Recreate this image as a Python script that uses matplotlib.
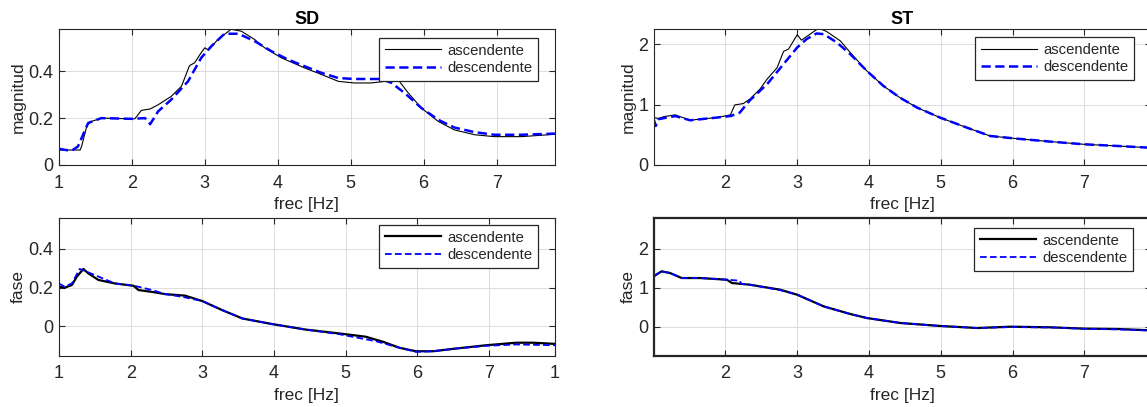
import matplotlib.pyplot as plt

plt.rcParams['font.family'] = ['Liberation Sans', 'DejaVu Sans']

# SD - magnitud
sd_mag_asc_f = [1.0, 1.29, 1.31, 1.38, 1.42, 1.58, 2.0, 2.04, 2.13, 2.25, 2.36, 2.54, 2.68,
                2.79, 2.86, 2.95, 3.0, 3.05, 3.18, 3.36, 3.5, 3.68, 3.82, 4.05, 4.37, 4.6,
                4.83, 5.05, 5.28, 5.47, 5.65, 5.79, 5.97, 6.2, 6.42, 6.7, 6.97, 7.34, 7.8]
sd_mag_asc = [0.064, 0.064, 0.079, 0.164, 0.183, 0.2, 0.197, 0.197, 0.233, 0.239, 0.257,
              0.293, 0.336, 0.424, 0.436, 0.479, 0.5, 0.49, 0.536, 0.579, 0.571, 0.536,
              0.5, 0.457, 0.414, 0.386, 0.357, 0.35, 0.35, 0.357, 0.364, 0.307, 0.243,
              0.186, 0.15, 0.129, 0.121, 0.121, 0.131]
sd_mag_desc_f = [1.0, 1.17, 1.26, 1.4, 1.58, 2.0, 2.18, 2.25, 2.36, 2.54, 2.77, 2.95, 3.09,
                 3.27, 3.46, 3.68, 3.91, 4.14, 4.37, 4.6, 4.83, 5.05, 5.42, 5.56, 5.74,
                 5.97, 6.2, 6.42, 6.7, 6.97, 7.34, 7.8]
sd_mag_desc = [0.069, 0.06, 0.079, 0.179, 0.2, 0.197, 0.2, 0.174, 0.229, 0.279, 0.357,
               0.457, 0.507, 0.56, 0.56, 0.529, 0.486, 0.45, 0.421, 0.393, 0.371, 0.367,
               0.367, 0.35, 0.307, 0.243, 0.193, 0.16, 0.14, 0.129, 0.129, 0.134]

# ST - magnitud
st_mag_asc_f = [1.0, 1.07, 1.14, 1.3, 1.37, 1.51, 1.65, 1.88, 2.07, 2.13, 2.25, 2.34, 2.48,
                2.58, 2.72, 2.81, 2.88, 3.0, 3.06, 3.18, 3.3, 3.41, 3.6, 3.74, 3.97, 4.2,
                4.43, 4.67, 4.99, 5.36, 5.69, 6.06, 6.53, 6.99, 7.46, 7.93]
st_mag_asc = [0.785, 0.77, 0.8, 0.83, 0.8, 0.74, 0.76, 0.785, 0.83, 0.994, 1.017, 1.09,
              1.254, 1.42, 1.61, 1.88, 1.92, 2.155, 2.066, 2.166, 2.265, 2.21, 2.055, 1.86,
              1.558, 1.31, 1.116, 0.95, 0.785, 0.62, 0.48, 0.436, 0.387, 0.343, 0.315, 0.285]
st_mag_desc_f = [1.0, 1.03, 1.06, 1.3, 1.51, 1.88, 2.07, 2.2, 2.34, 2.58, 2.81, 3.0, 3.13,
                 3.27, 3.37, 3.55, 3.74, 3.97, 4.2, 4.43, 4.67, 4.99, 5.36, 5.69, 6.06,
                 6.53, 6.99, 7.46, 7.93]
st_mag_desc = [0.757, 0.646, 0.757, 0.81, 0.74, 0.785, 0.81, 0.867, 1.07, 1.337, 1.67,
               1.945, 2.083, 2.177, 2.166, 2.03, 1.834, 1.558, 1.31, 1.116, 0.95, 0.785,
               0.62, 0.48, 0.436, 0.387, 0.343, 0.315, 0.285]

# SD - fase
sd_fase_asc_f = [1.0, 1.08, 1.18, 1.25, 1.34, 1.41, 1.55, 1.78, 2.04, 2.11, 2.34, 2.48,
                 2.76, 3.0, 3.28, 3.56, 3.98, 4.44, 4.91, 5.28, 5.52, 5.75, 5.98, 6.22,
                 6.54, 6.96, 7.38, 7.62, 7.92]
sd_fase_asc = [0.205, 0.2, 0.214, 0.257, 0.297, 0.274, 0.24, 0.222, 0.21, 0.188, 0.176,
               0.167, 0.159, 0.131, 0.084, 0.041, 0.012, -0.016, -0.036, -0.053, -0.079,
               -0.11, -0.128, -0.128, -0.114, -0.097, -0.084, -0.084, -0.09]
sd_fase_desc_f = [1.0, 1.08, 1.18, 1.29, 1.41, 1.78, 2.06, 2.3, 2.48, 2.72, 3.0, 3.28,
                  3.56, 3.98, 4.44, 4.91, 5.42, 5.75, 5.98, 6.22, 6.54, 6.96, 7.38, 7.92]
sd_fase_desc = [0.222, 0.205, 0.222, 0.297, 0.279, 0.222, 0.209, 0.188, 0.167, 0.153,
                0.131, 0.084, 0.041, 0.012, -0.016, -0.04, -0.076, -0.11, -0.131, -0.128,
                -0.114, -0.1, -0.093, -0.097]

# ST - fase
st_fase_asc_f = [1.0, 1.11, 1.23, 1.39, 1.65, 2.02, 2.09, 2.34, 2.76, 3.0, 3.37, 3.74,
                 3.97, 4.44, 5.0, 5.51, 5.98, 6.54, 7.0, 7.47, 7.93]
st_fase_asc = [1.29, 1.42, 1.376, 1.248, 1.248, 1.205, 1.12, 1.077, 0.95, 0.82, 0.52,
               0.325, 0.222, 0.094, 0.017, -0.034, 0.0, -0.017, -0.05, -0.06, -0.094]
st_fase_desc_f = [1.0, 1.11, 1.23, 1.39, 1.65, 2.02, 2.2, 2.22, 2.34, 2.76, 3.0, 3.37,
                  3.74, 3.97, 4.44, 5.0, 5.51, 5.98, 6.54, 7.0, 7.47, 7.93]
st_fase_desc = [1.3, 1.42, 1.376, 1.248, 1.248, 1.205, 1.18, 1.1, 1.077, 0.94, 0.82, 0.52,
                0.325, 0.222, 0.094, 0.017, -0.034, -0.01, -0.02, -0.055, -0.07, -0.1]

gris = '#262626'
azul = '#0000ff'
dash = (0, (3.7, 1.8))


def estilo(ax, xlim, ylim, xticks, xlabels, yticks, ylabels, marco=0.8):
    ax.set_xlim(xlim)
    ax.set_ylim(ylim)
    ax.set_xticks(xticks)
    ax.set_xticklabels(xlabels)
    ax.set_yticks(yticks)
    ax.set_yticklabels(ylabels)
    ax.tick_params(direction='in', top=True, right=True, length=4, width=0.8,
                   colors=gris, labelsize=13)
    ax.tick_params(axis='x', pad=7)
    ax.tick_params(axis='y', pad=4)
    ax.grid(color='#dcdcdc', linewidth=0.7)
    ax.set_axisbelow(True)
    for s in ax.spines.values():
        s.set_linewidth(marco)
        s.set_color(gris)
    ax.set_xlabel('frec [Hz]', fontsize=12.5, color=gris, labelpad=4)


def leyenda(ax, x, y):
    leg = ax.legend(loc='upper right', bbox_to_anchor=(x, y), borderaxespad=0,
                    fontsize=10.7, fancybox=False, edgecolor=gris, framealpha=1,
                    handlelength=3.8, handletextpad=0.4, labelspacing=0.22,
                    borderpad=0.38)
    leg.get_frame().set_linewidth(0.9)
    for t in leg.get_texts():
        t.set_color(gris)


fig = plt.figure(figsize=(11.47, 4.07), dpi=100)

ax1 = fig.add_axes([0.0514, 0.5946, 0.4324, 0.334])
ax2 = fig.add_axes([0.5702, 0.5946, 0.4333, 0.334])
ax3 = fig.add_axes([0.0514, 0.1265, 0.4324, 0.338])
ax4 = fig.add_axes([0.5702, 0.1265, 0.4333, 0.338])

# SD magnitud
ax1.plot(sd_mag_asc_f, sd_mag_asc, color='k', linewidth=0.8, label='ascendente')
ax1.plot(sd_mag_desc_f, sd_mag_desc, color=azul, linewidth=1.8, linestyle=dash,
         label='descendente')
estilo(ax1, (1, 7.8), (0, 0.58), range(1, 8), [str(i) for i in range(1, 8)],
       [0, 0.2, 0.4], ['0', '0.2', '0.4'])
ax1.set_ylabel('magnitud', fontsize=12.5, color=gris, labelpad=2)
ax1.set_title('SD', fontsize=13, fontweight='bold', color='k', pad=4)
leyenda(ax1, 0.966, 0.934)

# ST magnitud
ax2.plot(st_mag_asc_f, st_mag_asc, color='k', linewidth=0.8, label='ascendente')
ax2.plot(st_mag_desc_f, st_mag_desc, color=azul, linewidth=1.8, linestyle=dash,
         label='descendente')
estilo(ax2, (1.005, 7.93), (0, 2.25), range(2, 8), [str(i) for i in range(2, 8)],
       [0, 1, 2], ['0', '1', '2'])
ax2.set_ylabel('magnitud', fontsize=12.5, color=gris, labelpad=2)
ax2.set_title('ST', fontsize=13, fontweight='bold', color='k', pad=4)
leyenda(ax2, 0.966, 0.94)

# SD fase
ax3.plot(sd_fase_asc_f, sd_fase_asc, color='k', linewidth=1.6, label='ascendente')
ax3.plot(sd_fase_desc_f, sd_fase_desc, color=azul, linewidth=1.3, linestyle=dash,
         label='descendente')
estilo(ax3, (1, 7.92), (-0.15, 0.56), [1, 2, 3, 4, 5, 6, 7, 7.92],
       ['1', '2', '3', '4', '5', '6', '7', '1'],
       [0, 0.2, 0.4], ['0', '0.2', '0.4'])
ax3.set_ylabel('fase', fontsize=12.5, color=gris, labelpad=2)
leyenda(ax3, 0.966, 0.949)

# ST fase
ax4.plot(st_fase_asc_f, st_fase_asc, color='k', linewidth=1.6, label='ascendente')
ax4.plot(st_fase_desc_f, st_fase_desc, color=azul, linewidth=1.3, linestyle=dash,
         label='descendente')
estilo(ax4, (1.005, 7.93), (-0.74, 2.79), range(2, 8), [str(i) for i in range(2, 8)],
       [0, 1, 2], ['0', '1', '2'], marco=1.6)
ax4.set_ylabel('fase', fontsize=12.5, color=gris, labelpad=2)
leyenda(ax4, 0.964, 0.927)

fig.savefig('out.png', dpi=100)
